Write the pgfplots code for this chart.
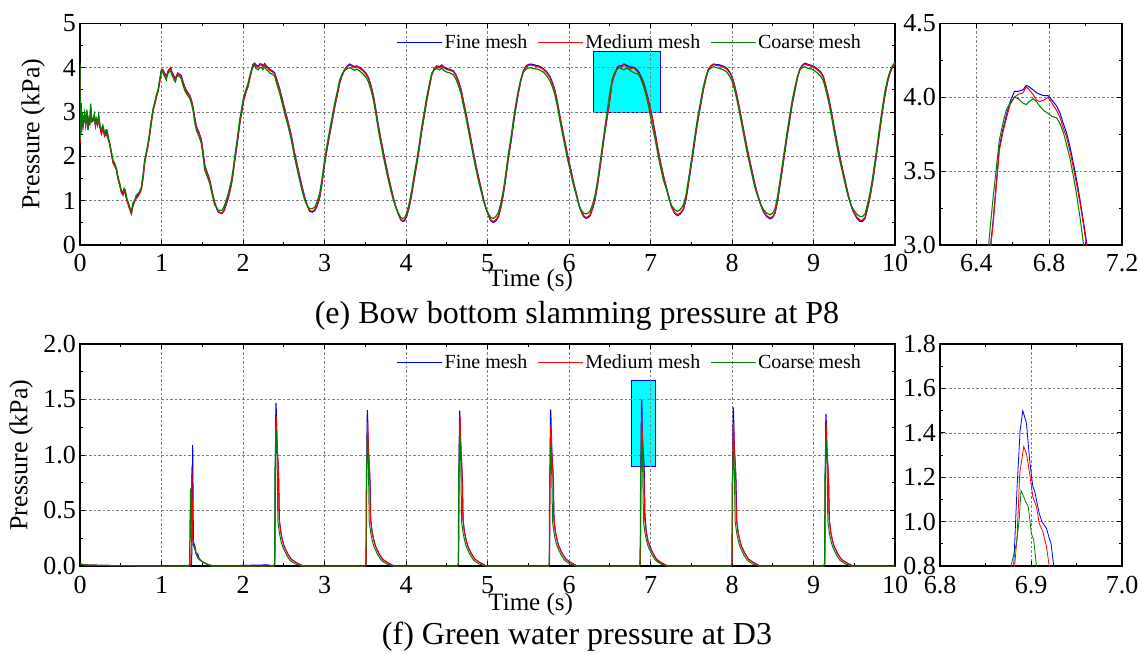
\documentclass[border=0pt]{standalone}
\usepackage{fontspec}
\setmainfont{Liberation Serif}
\usepackage{pgfplots}
\pgfplotsset{compat=1.18}
\usepackage{pgfplotstable}

\definecolor{cgreen}{RGB}{0,128,0}
\definecolor{cblue}{RGB}{0,0,255}
\definecolor{cred}{RGB}{255,0,0}
\definecolor{ccyan}{RGB}{0,255,255}

% columns: time, coarse, medium, fine
\pgfplotstableread{
t c m f
0 4.10 4.05 4.08
0.004 2.40 2.30 2.35
0.008 3.10 2.90 3.00
0.012 2.60 2.50 2.55
0.016 3.20 3.00 3.10
0.02 2.66 2.55 2.60
0.03 3.00 2.95 2.90
0.04 2.70 2.75 2.70
0.057 2.97 2.90 2.95
0.07 2.75 2.70 2.72
0.085 3.05 2.95 3.00
0.098 2.59 2.65 2.60
0.11 2.90 2.85 2.88
0.12 2.75 2.75 2.70
0.131 3.19 3.05 3.10
0.145 2.80 2.80 2.78
0.16 2.82 2.85 2.80
0.175 2.95 2.90 2.92
0.19 2.70 2.72 2.70
0.2 2.85 2.80 2.82
0.215 2.75 2.70 2.72
0.229 2.93 2.85 2.90
0.245 2.70 2.65 2.68
0.262 2.59 2.50 2.55
0.28 2.70 2.62 2.66
0.303 2.52 2.45 2.48
0.32 2.60 2.50 2.55
0.335 2.59 2.45 2.50
0.35 2.40 2.35 2.38
0.364 2.29 2.30 2.28
0.385 2.10 2.05 2.08
0.405 1.91 1.85 1.88
0.425 1.85 1.78 1.80
0.446 1.73 1.70 1.72
0.465 1.55 1.50 1.52
0.487 1.39 1.35 1.37
0.508 1.22 1.18 1.20
0.528 1.20 1.12 1.15
0.542 1.28 1.22 1.25
0.556 1.24 1.15 1.18
0.575 1.05 1.00 1.02
0.589 0.98 0.92 0.95
0.61 0.85 0.80 0.82
0.63 0.75 0.70 0.72
0.65 0.95 0.88 0.90
0.671 1.01 0.98 1.00
0.69 1.12 1.05 1.08
0.712 1.16 1.10 1.12
0.73 1.20 1.15 1.18
0.753 1.31 1.25 1.28
0.775 1.60 1.52 1.55
0.793 1.91 1.85 1.88
0.815 2.10 2.05 2.08
0.834 2.29 2.22 2.25
0.855 2.55 2.48 2.50
0.875 2.82 2.75 2.78
0.9 3.10 3.05 3.08
0.924 3.27 3.22 3.25
0.94 3.40 3.35 3.38
0.957 3.49 3.45 3.47
0.98 3.75 3.70 3.72
0.998 3.94 3.92 3.93
1.015 3.90 3.95 3.96
1.03 3.83 3.88 3.90
1.045 3.78 3.82 3.85
1.06 3.72 3.78 3.80
1.07 3.82 3.85 3.86
1.08 3.87 3.90 3.92
1.095 3.90 3.95 3.96
1.112 3.94 3.98 4.00
1.125 3.85 3.90 3.92
1.14 3.79 3.85 3.86
1.155 3.72 3.78 3.80
1.17 3.68 3.72 3.75
1.185 3.78 3.80 3.82
1.2 3.83 3.86 3.88
1.22 3.80 3.84 3.85
1.243 3.75 3.80 3.82
1.264 3.60 3.66 3.68
1.284 3.49 3.55 3.57
1.31 3.40 3.45 3.47
1.346 3.31 3.36 3.38
1.365 3.20 3.26 3.28
1.386 3.04 3.10 3.12
1.405 2.80 2.88 2.90
1.427 2.59 2.66 2.68
1.46 2.45 2.52 2.54
1.489 2.29 2.36 2.38
1.51 2.00 2.08 2.10
1.53 1.69 1.78 1.80
1.56 1.55 1.62 1.64
1.591 1.39 1.45 1.47
1.62 1.15 1.20 1.22
1.652 0.90 0.95 0.96
1.675 0.85 0.84 0.84
1.693 0.79 0.76 0.75
1.72 0.78 0.73 0.72
1.742 0.78 0.72 0.71
1.77 0.88 0.80 0.78
1.795 1.01 0.94 0.92
1.825 1.20 1.12 1.10
1.857 1.46 1.38 1.36
1.878 1.70 1.62 1.60
1.898 1.99 1.91 1.89
1.93 2.40 2.32 2.30
1.959 2.82 2.74 2.72
1.985 3.10 3.03 3.01
2.008 3.34 3.27 3.26
2.035 3.50 3.45 3.44
2.061 3.64 3.58 3.57
2.08 3.80 3.74 3.73
2.102 3.94 3.90 3.90
2.12 4.02 4.04 4.06
2.143 4.05 4.09 4.10
2.16 3.98 4.04 4.06
2.184 3.95 4.01 4.03
2.205 4.00 4.06 4.08
2.225 4.00 4.06 4.08
2.245 3.96 4.02 4.04
2.266 4.02 4.07 4.09
2.29 3.95 4.01 4.03
2.31 3.92 3.98 4.00
2.328 3.88 3.94 3.96
2.36 3.85 3.91 3.93
2.389 3.80 3.86 3.88
2.42 3.60 3.68 3.70
2.45 3.42 3.50 3.52
2.48 3.20 3.28 3.30
2.511 2.97 3.05 3.07
2.55 2.70 2.78 2.80
2.593 2.37 2.45 2.47
2.63 2.00 2.08 2.10
2.675 1.62 1.70 1.72
2.715 1.30 1.37 1.39
2.757 1.01 1.06 1.08
2.79 0.88 0.88 0.88
2.818 0.82 0.78 0.76
2.85 0.82 0.76 0.74
2.879 0.85 0.79 0.77
2.91 0.98 0.90 0.88
2.94 1.16 1.08 1.06
2.97 1.50 1.42 1.40
3.0 1.91 1.83 1.81
3.03 2.25 2.17 2.15
3.063 2.59 2.51 2.49
3.095 2.90 2.82 2.80
3.124 3.19 3.11 3.10
3.155 3.45 3.38 3.37
3.186 3.72 3.66 3.65
3.215 3.85 3.82 3.82
3.247 3.94 3.95 3.96
3.275 3.97 4.02 4.03
3.308 4.00 4.06 4.08
3.34 3.97 4.03 4.05
3.37 3.94 4.00 4.02
3.395 3.97 4.03 4.04
3.435 3.92 3.98 4.00
3.477 3.85 3.92 3.94
3.51 3.78 3.85 3.87
3.539 3.68 3.76 3.78
3.57 3.50 3.58 3.60
3.6 3.27 3.35 3.37
3.63 2.95 3.03 3.05
3.661 2.59 2.67 2.69
3.69 2.30 2.38 2.40
3.723 1.99 2.07 2.09
3.755 1.70 1.78 1.80
3.784 1.46 1.53 1.55
3.815 1.22 1.28 1.30
3.845 1.01 1.05 1.06
3.875 0.85 0.86 0.86
3.907 0.72 0.70 0.69
3.935 0.62 0.58 0.57
3.96 0.60 0.55 0.53
3.985 0.62 0.57 0.55
4.008 0.72 0.66 0.64
4.04 0.95 0.88 0.86
4.07 1.24 1.16 1.14
4.1 1.58 1.50 1.48
4.131 1.91 1.83 1.81
4.16 2.25 2.17 2.15
4.193 2.67 2.59 2.57
4.225 3.02 2.94 2.92
4.254 3.34 3.27 3.25
4.285 3.62 3.56 3.55
4.315 3.87 3.83 3.83
4.345 3.95 3.97 3.98
4.377 3.98 4.02 4.04
4.41 3.95 4.00 4.02
4.438 3.99 4.04 4.06
4.47 3.93 3.99 4.01
4.499 3.90 3.96 3.98
4.54 3.88 3.94 3.96
4.581 3.84 3.91 3.93
4.61 3.75 3.83 3.85
4.643 3.60 3.68 3.70
4.674 3.42 3.50 3.52
4.704 3.15 3.23 3.25
4.735 2.88 2.96 2.98
4.765 2.59 2.67 2.69
4.795 2.30 2.38 2.40
4.827 1.99 2.07 2.09
4.857 1.72 1.79 1.81
4.888 1.46 1.53 1.55
4.92 1.22 1.27 1.29
4.949 1.01 1.04 1.05
4.98 0.83 0.83 0.83
5.011 0.71 0.68 0.67
5.04 0.62 0.57 0.55
5.072 0.60 0.53 0.51
5.1 0.64 0.56 0.54
5.133 0.73 0.65 0.63
5.165 0.95 0.87 0.85
5.194 1.24 1.16 1.14
5.225 1.62 1.54 1.52
5.256 2.06 1.98 1.96
5.29 2.45 2.37 2.35
5.317 2.82 2.74 2.72
5.345 3.15 3.08 3.06
5.378 3.49 3.43 3.42
5.41 3.75 3.72 3.72
5.44 3.90 3.92 3.93
5.47 3.96 4.01 4.03
5.501 3.99 4.05 4.07
5.53 4.00 4.06 4.08
5.562 3.98 4.05 4.07
5.595 3.97 4.03 4.05
5.624 3.96 4.02 4.04
5.655 3.93 3.99 4.01
5.685 3.90 3.96 3.98
5.725 3.82 3.89 3.91
5.767 3.70 3.78 3.80
5.8 3.55 3.63 3.65
5.828 3.38 3.46 3.48
5.86 3.10 3.18 3.20
5.889 2.80 2.88 2.90
5.92 2.50 2.58 2.60
5.951 2.22 2.30 2.32
5.98 1.95 2.03 2.05
6.012 1.70 1.77 1.79
6.05 1.38 1.44 1.46
6.094 1.09 1.12 1.13
6.125 0.88 0.88 0.88
6.155 0.77 0.74 0.73
6.18 0.72 0.66 0.64
6.208 0.70 0.62 0.60
6.235 0.72 0.64 0.62
6.258 0.76 0.68 0.66
6.29 0.92 0.84 0.82
6.319 1.12 1.04 1.02
6.35 1.45 1.37 1.35
6.38 1.84 1.76 1.74
6.41 2.25 2.17 2.15
6.442 2.67 2.59 2.57
6.467 3.00 2.86 2.88
6.49 3.30 3.12 3.14
6.526 3.71 3.64 3.66
6.545 3.82 3.76 3.78
6.563 3.91 3.85 3.87
6.585 3.96 3.95 3.97
6.609 4.00 4.00 4.04
6.63 3.99 4.02 4.04
6.656 3.96 4.03 4.05
6.674 3.95 4.07 4.08
6.69 3.97 4.05 4.07
6.711 3.99 4.02 4.05
6.73 3.97 3.98 4.03
6.748 3.94 3.97 4.02
6.77 3.91 3.98 4.01
6.794 3.89 4.00 4.01
6.815 3.87 3.96 3.98
6.841 3.86 3.91 3.94
6.86 3.82 3.86 3.89
6.878 3.76 3.79 3.82
6.895 3.68 3.73 3.76
6.915 3.58 3.63 3.66
6.935 3.45 3.51 3.54
6.952 3.33 3.40 3.43
6.97 3.18 3.28 3.30
6.989 3.00 3.13 3.15
7.02 2.70 2.87 2.90
7.055 2.40 2.52 2.55
7.085 2.10 2.20 2.23
7.117 1.80 1.90 1.92
7.16 1.45 1.53 1.55
7.199 1.24 1.26 1.27
7.23 1.02 1.04 1.05
7.26 0.88 0.86 0.85
7.295 0.80 0.74 0.72
7.33 0.76 0.68 0.66
7.365 0.80 0.72 0.70
7.403 0.90 0.82 0.80
7.435 1.12 1.04 1.02
7.464 1.46 1.38 1.36
7.495 1.84 1.76 1.74
7.526 2.22 2.14 2.12
7.555 2.60 2.52 2.50
7.587 2.97 2.89 2.87
7.62 3.30 3.23 3.21
7.648 3.57 3.51 3.50
7.68 3.80 3.76 3.76
7.709 3.94 3.95 3.96
7.74 3.99 4.03 4.04
7.771 4.02 4.07 4.08
7.81 4.00 4.05 4.07
7.853 3.98 4.04 4.06
7.895 3.95 4.01 4.03
7.935 3.90 3.97 3.99
7.965 3.82 3.90 3.92
7.996 3.72 3.80 3.82
8.025 3.55 3.63 3.65
8.057 3.30 3.38 3.40
8.09 3.00 3.08 3.10
8.119 2.72 2.80 2.82
8.15 2.42 2.50 2.52
8.18 2.13 2.21 2.23
8.21 1.88 1.95 1.97
8.241 1.62 1.69 1.71
8.27 1.38 1.44 1.46
8.303 1.16 1.20 1.21
8.345 0.95 0.95 0.95
8.385 0.80 0.76 0.75
8.425 0.72 0.66 0.64
8.466 0.68 0.61 0.59
8.5 0.72 0.64 0.62
8.528 0.82 0.74 0.72
8.56 1.10 1.02 1.00
8.589 1.46 1.38 1.36
8.62 1.84 1.76 1.74
8.65 2.22 2.14 2.12
8.68 2.60 2.52 2.50
8.712 2.97 2.89 2.87
8.74 3.28 3.21 3.19
8.773 3.57 3.51 3.50
8.805 3.82 3.79 3.79
8.835 3.96 3.97 3.98
8.865 4.00 4.05 4.06
8.896 4.02 4.08 4.10
8.935 3.98 4.05 4.07
8.978 3.97 4.03 4.05
9.02 3.92 3.99 4.01
9.06 3.86 3.93 3.95
9.09 3.80 3.88 3.90
9.121 3.70 3.78 3.80
9.15 3.50 3.58 3.60
9.183 3.25 3.33 3.35
9.215 2.95 3.03 3.05
9.244 2.65 2.73 2.75
9.275 2.35 2.43 2.45
9.305 2.06 2.14 2.16
9.335 1.80 1.87 1.89
9.367 1.54 1.60 1.62
9.4 1.28 1.33 1.35
9.428 1.08 1.11 1.12
9.46 0.90 0.90 0.90
9.489 0.80 0.76 0.75
9.53 0.70 0.63 0.61
9.571 0.64 0.56 0.53
9.6 0.64 0.56 0.53
9.632 0.70 0.62 0.60
9.66 0.90 0.82 0.80
9.693 1.17 1.09 1.07
9.725 1.52 1.44 1.42
9.755 1.90 1.82 1.80
9.785 2.30 2.22 2.20
9.816 2.72 2.64 2.62
9.845 3.10 3.02 3.00
9.877 3.47 3.40 3.38
9.91 3.75 3.70 3.69
9.939 3.92 3.89 3.89
9.97 4.05 4.02 4.02
10.0 4.12 4.10 4.10
}\topdata

% green water pressure, fine mesh
\pgfplotstableread{
t v
0 0.02
0.05 0.01
0.3 0.005
1.0 0
1.355 0
1.37 0.02
1.374 0.3
1.377 0.6
1.38 0.9
1.383 1.09
1.386 0.8
1.389 0.45
1.392 0.22
1.4 0.2
1.41 0.18
1.425 0.12
1.435 0.1
1.445 0.11
1.455 0.08
1.48 0.05
1.52 0.03
1.58 0.01
1.65 0
2.3 0.01
2.375 0
2.389 0.02
2.392 0.3
2.395 0.78
2.399 1.13
2.402 1.38
2.405 1.47
2.409 1.40
2.413 1.25
2.42 1.07
2.426 0.98
2.434 0.88
2.439 0.78
2.447 0.41
2.465 0.3
2.485 0.23
2.505 0.18
2.55 0.11
2.595 0.06
2.655 0.03
2.735 0
3.496 0
3.51 0.02
3.513 0.3
3.516 0.75
3.52 1.08
3.523 1.32
3.526 1.405
3.53 1.335
3.534 1.19
3.541 1.03
3.547 0.94
3.555 0.84
3.56 0.74
3.568 0.41
3.586 0.3
3.606 0.23
3.626 0.18
3.671 0.11
3.716 0.06
3.776 0.03
3.856 0
4.629 0
4.643 0.02
4.646 0.3
4.649 0.75
4.653 1.08
4.656 1.32
4.659 1.40
4.663 1.33
4.667 1.19
4.674 1.02
4.68 0.94
4.688 0.84
4.693 0.74
4.701 0.41
4.719 0.3
4.739 0.23
4.759 0.18
4.804 0.11
4.849 0.06
4.909 0.03
4.989 0
5.745 0
5.759 0.02
5.762 0.3
5.765 0.75
5.769 1.09
5.772 1.33
5.775 1.41
5.779 1.34
5.783 1.2
5.79 1.03
5.796 0.94
5.804 0.85
5.809 0.75
5.817 0.41
5.835 0.3
5.855 0.23
5.875 0.18
5.92 0.11
5.965 0.06
6.025 0.03
6.105 0
6.86 0
6.87 0.01
6.878 0.3
6.881 0.8
6.8847 1.157
6.888 1.41
6.891 1.5
6.895 1.443
6.8985 1.277
6.902 1.157
6.904 1.14
6.906 1.097
6.909 1.037
6.912 1.0
6.917 0.97
6.92 0.925
6.922 0.902
6.925 0.8
6.933 0.45
6.95 0.3
6.97 0.22
6.994 0.18
7.01 0.15
7.035 0.11
7.08 0.05
7.13 0.02
7.2 0
7.986 0
8.0 0.02
8.003 0.3
8.006 0.76
8.01 1.1
8.013 1.34
8.016 1.43
8.02 1.36
8.024 1.22
8.031 1.04
8.037 0.96
8.045 0.86
8.05 0.76
8.058 0.41
8.076 0.3
8.096 0.23
8.116 0.18
8.161 0.11
8.206 0.06
8.266 0.03
8.346 0
9.123 0
9.137 0.02
9.14 0.3
9.143 0.73
9.147 1.05
9.15 1.29
9.153 1.37
9.157 1.3
9.161 1.16
9.168 1.0
9.174 0.92
9.182 0.82
9.187 0.73
9.195 0.41
9.213 0.3
9.233 0.23
9.253 0.18
9.298 0.11
9.343 0.06
9.403 0.03
9.483 0
10 0
}\botF

% medium mesh
\pgfplotstableread{
t v
0 0.02
0.05 0.01
0.3 0.005
1.0 0
1.345 0
1.36 0.02
1.364 0.3
1.368 0.6
1.372 0.895
1.375 0.8
1.379 0.45
1.383 0.25
1.39 0.2
1.4 0.18
1.415 0.14
1.43 0.1
1.45 0.07
1.48 0.05
1.52 0.03
1.58 0.01
1.65 0
2.377 0
2.391 0.02
2.394 0.3
2.397 0.81
2.4 0.95
2.403 1.23
2.407 1.35
2.41 1.32
2.4135 1.23
2.417 1.12
2.421 1.08
2.424 1.0
2.428 0.96
2.432 0.89
2.435 0.81
2.443 0.43
2.462 0.31
2.482 0.24
2.502 0.18
2.547 0.11
2.592 0.06
2.652 0.03
2.732 0
3.498 0
3.512 0.02
3.515 0.3
3.518 0.77
3.521 0.9
3.524 1.17
3.528 1.29
3.531 1.26
3.5345 1.17
3.538 1.07
3.542 1.03
3.545 0.95
3.549 0.92
3.553 0.85
3.556 0.77
3.564 0.43
3.583 0.31
3.603 0.24
3.623 0.18
3.668 0.11
3.713 0.06
3.773 0.03
3.853 0
4.631 0
4.645 0.02
4.648 0.3
4.651 0.81
4.654 0.95
4.657 1.23
4.661 1.35
4.664 1.32
4.6675 1.23
4.671 1.12
4.675 1.08
4.678 1.0
4.682 0.96
4.686 0.89
4.689 0.81
4.697 0.43
4.716 0.31
4.736 0.24
4.756 0.18
4.801 0.11
4.846 0.06
4.906 0.03
4.986 0
5.747 0
5.761 0.02
5.764 0.3
5.767 0.76
5.77 0.89
5.773 1.16
5.777 1.27
5.78 1.24
5.7835 1.16
5.787 1.05
5.791 1.02
5.794 0.94
5.798 0.9
5.802 0.84
5.805 0.76
5.813 0.43
5.832 0.31
5.852 0.24
5.872 0.18
5.917 0.11
5.962 0.06
6.022 0.03
6.102 0
6.862 0
6.876 0.02
6.879 0.3
6.882 0.8
6.8847 0.93
6.8876 1.217
6.892 1.338
6.895 1.307
6.8985 1.217
6.902 1.112
6.906 1.067
6.909 0.992
6.913 0.955
6.917 0.887
6.92 0.8
6.928 0.43
6.947 0.31
6.967 0.24
6.987 0.18
7.032 0.11
7.077 0.06
7.137 0.03
7.217 0
7.988 0
8.002 0.02
8.005 0.3
8.008 0.77
8.011 0.9
8.014 1.17
8.018 1.29
8.021 1.26
8.0245 1.17
8.028 1.07
8.032 1.03
8.035 0.95
8.039 0.92
8.043 0.85
8.046 0.77
8.054 0.43
8.073 0.31
8.093 0.24
8.113 0.18
8.158 0.11
8.203 0.06
8.263 0.03
8.343 0
9.125 0
9.139 0.02
9.142 0.3
9.145 0.77
9.148 0.9
9.151 1.17
9.155 1.29
9.158 1.26
9.1615 1.17
9.165 1.07
9.169 1.03
9.172 0.95
9.176 0.92
9.18 0.85
9.183 0.77
9.191 0.43
9.21 0.31
9.23 0.24
9.25 0.18
9.295 0.11
9.34 0.06
9.4 0.03
9.48 0
10 0
}\botM

% coarse mesh
\pgfplotstableread{
t v
0 0.02
0.05 0.01
0.3 0.005
1.0 0
1.33 0
1.345 0.02
1.348 0.4
1.352 0.45
1.356 0.70
1.359 0.6
1.362 0.35
1.366 0.22
1.375 0.2
1.39 0.19
1.41 0.15
1.43 0.1
1.46 0.06
1.5 0.04
1.55 0.02
1.62 0
2.373 0
2.387 0.02
2.389 0.3
2.392 0.88
2.398 0.99
2.401 1.1
2.403 1.25
2.406 1.22
2.408 1.2
2.411 1.17
2.4144 1.04
2.417 1.0
2.42 0.88
2.428 0.4
2.448 0.29
2.468 0.22
2.488 0.17
2.533 0.1
2.578 0.05
2.638 0.02
2.718 0
3.494 0
3.508 0.02
3.51 0.3
3.513 0.83
3.519 0.93
3.522 1.04
3.524 1.18
3.527 1.15
3.529 1.13
3.532 1.1
3.5354 0.98
3.538 0.94
3.541 0.83
3.549 0.4
3.569 0.29
3.589 0.22
3.609 0.17
3.654 0.1
3.699 0.05
3.759 0.02
3.839 0
4.627 0
4.641 0.02
4.643 0.3
4.646 0.85
4.652 0.96
4.655 1.07
4.657 1.22
4.66 1.19
4.662 1.17
4.665 1.14
4.6684 1.01
4.671 0.98
4.674 0.85
4.682 0.4
4.702 0.29
4.722 0.22
4.742 0.17
4.787 0.1
4.832 0.05
4.892 0.02
4.972 0
5.743 0
5.757 0.02
5.759 0.3
5.762 0.76
5.768 0.86
5.771 0.96
5.773 1.09
5.776 1.06
5.778 1.04
5.781 1.02
5.7844 0.9
5.787 0.87
5.79 0.76
5.798 0.4
5.818 0.29
5.838 0.22
5.858 0.17
5.903 0.1
5.948 0.05
6.008 0.02
6.088 0
6.859 0
6.873 0.02
6.875 0.3
6.878 0.8
6.884 0.902
6.887 1.007
6.889 1.14
6.892 1.112
6.894 1.09
6.897 1.067
6.9004 0.947
6.903 0.917
6.906 0.8
6.914 0.4
6.934 0.29
6.954 0.22
6.974 0.17
7.019 0.1
7.064 0.05
7.124 0.02
7.204 0
7.984 0
7.998 0.02
8.0 0.3
8.003 0.76
8.009 0.86
8.012 0.96
8.014 1.09
8.017 1.06
8.019 1.04
8.022 1.02
8.0254 0.9
8.028 0.87
8.031 0.76
8.039 0.4
8.059 0.29
8.079 0.22
8.099 0.17
8.144 0.1
8.189 0.05
8.249 0.02
8.329 0
9.121 0
9.135 0.02
9.137 0.3
9.14 0.82
9.146 0.92
9.149 1.03
9.151 1.17
9.154 1.14
9.156 1.12
9.159 1.1
9.1624 0.97
9.165 0.94
9.168 0.82
9.176 0.4
9.196 0.29
9.216 0.22
9.236 0.17
9.281 0.1
9.326 0.05
9.386 0.02
9.466 0
10 0
}\botC

\pgfplotsset{
  base/.style={
    scale only axis, set layers,
    axis line style={line width=1.2pt},
    every tick/.style={black, line width=0.8pt},
    major tick length=5pt, minor tick length=3pt,
    grid=major,
    major grid style={dash pattern=on 2.5pt off 2pt, gray, line width=0.6pt},
    tick label style={font=\fontsize{26}{26}\selectfont},
    /pgf/number format/assume math mode=true,
    yticklabel style={inner sep=1pt, xshift=-3pt},
  },
  mainleg/.style={
    legend style={draw=none, fill=none, font=\fontsize{20}{20}\selectfont,
      at={(axis description cs:0.962,0.965)}, anchor=north east, inner sep=1pt,
      /tikz/every even column/.append style={column sep=8pt}},
    legend columns=3,
    legend image code/.code={\draw[##1] (0pt,0pt) -- (45pt,0pt);},
  },
  onedec/.style={/pgf/number format/.cd, fixed, fixed zerofill, precision=1},
}

\begin{document}
\begin{tikzpicture}

% ---------- (e) main ----------
\begin{axis}[base, mainleg,
  at={(80pt,-245pt)}, anchor=south west, width=815pt, height=221.7pt,
  xmin=0, xmax=10, ymin=0, ymax=5,
  xtick={0,1,...,10}, ytick={0,1,...,5},
  minor x tick num=1, minor y tick num=1,
  xticklabel style={inner sep=1pt, yshift=-8pt},
  xlabel={Time (s)},
  x label style={at={(axis description cs:0.553,0)}, anchor=north, yshift=-24pt, inner sep=0pt, font=\fontsize{25}{25}\selectfont},
  ylabel={Pressure (kPa)},
  y label style={at={(axis description cs:0,0.5)}, anchor=south, yshift=35pt, inner sep=0pt, font=\fontsize{26}{26}\selectfont},
]
\addplot[draw=cblue, fill=ccyan, line width=0.8pt, forget plot, on layer=axis background] coordinates {(6.3,3.0) (7.12,3.0) (7.12,4.37) (6.3,4.37) (6.3,3.0)};
\addplot[cblue, line width=1.2pt, forget plot] table[x=t, y=f] {\topdata};
\addplot[cred, line width=1.2pt, forget plot] table[x=t, y=m] {\topdata};
\addplot[cgreen, line width=1.2pt, forget plot] table[x=t, y=c] {\topdata};
\addlegendimage{cblue, line width=0.8pt}
\addlegendentry{Fine mesh}
\addlegendimage{cred, line width=0.8pt}
\addlegendentry{Medium mesh}
\addlegendimage{cgreen, line width=0.8pt}
\addlegendentry{Coarse mesh}
\end{axis}

% ---------- (e) inset ----------
\begin{axis}[base,
  at={(940pt,-245pt)}, anchor=south west, width=182pt, height=221.7pt,
  xmin=6.2, xmax=7.2, ymin=3, ymax=4.5,
  xtick={6.4,6.8,7.2}, minor xtick={6.6,7.0},
  ytick={3,3.5,4,4.5}, minor ytick={3.25,3.75,4.25},
  xticklabel style={inner sep=1pt, yshift=-8pt, onedec}, yticklabel style={onedec},
]
\addplot[cblue, line width=1pt] table[x=t, y=f] {\topdata};
\addplot[cred, line width=1pt] table[x=t, y=m] {\topdata};
\addplot[cgreen, line width=1pt] table[x=t, y=c] {\topdata};
\end{axis}

% ---------- (f) main ----------
\begin{axis}[base, mainleg,
  at={(80pt,-566pt)}, anchor=south west, width=815pt, height=222pt,
  xmin=0, xmax=10, ymin=0, ymax=2,
  xtick={0,1,...,10}, ytick={0,0.5,1,1.5,2},
  minor x tick num=1, minor y tick num=1,
  xticklabel style={inner sep=1pt, yshift=-9pt},
  yticklabel style={onedec},
  xlabel={Time (s)},
  x label style={at={(axis description cs:0.553,0)}, anchor=north, yshift=-27pt, inner sep=0pt, font=\fontsize{25}{25}\selectfont},
  ylabel={Pressure (kPa)},
  y label style={at={(axis description cs:0,0.5)}, anchor=south, yshift=47pt, inner sep=0pt, font=\fontsize{26}{26}\selectfont},
]
\addplot[draw=cblue, fill=ccyan, line width=0.8pt, forget plot, on layer=axis background] coordinates {(6.76,0.9) (7.06,0.9) (7.06,1.67) (6.76,1.67) (6.76,0.9)};
\addplot[cblue, line width=1pt, forget plot] table[x=t, y=v] {\botF};
\addplot[cred, line width=1pt, forget plot] table[x=t, y=v] {\botM};
\addplot[cgreen, line width=1pt, forget plot] table[x=t, y=v] {\botC};
\addlegendimage{cblue, line width=0.8pt}
\addlegendentry{Fine mesh}
\addlegendimage{cred, line width=0.8pt}
\addlegendentry{Medium mesh}
\addlegendimage{cgreen, line width=0.8pt}
\addlegendentry{Coarse mesh}
\end{axis}

% ---------- (f) inset ----------
\begin{axis}[base,
  at={(940pt,-566pt)}, anchor=south west, width=182pt, height=222pt,
  xmin=6.8, xmax=7.0, ymin=0.8, ymax=1.8,
  xtick={6.8,6.9,7.0}, minor xtick={6.85,6.95},
  ytick={0.8,1.0,1.2,1.4,1.6,1.8}, minor ytick={0.9,1.1,1.3,1.5,1.7},
  xticklabel style={inner sep=1pt, yshift=-9pt, onedec}, yticklabel style={onedec},
]
\addplot[cblue, line width=0.8pt] table[x=t, y=v] {\botF};
\addplot[cred, line width=0.8pt] table[x=t, y=v] {\botM};
\addplot[cgreen, line width=0.8pt] table[x=t, y=v] {\botC};
\end{axis}

\node[font=\fontsize{32}{32}\selectfont, inner sep=0pt] at (577pt,-316pt) {(e) Bow bottom slamming pressure at P8};
\node[font=\fontsize{32}{32}\selectfont, inner sep=0pt] at (577pt,-637pt) {(f) Green water pressure at D3};

\pgfresetboundingbox
\useasboundingbox (0,0) rectangle (1139pt,-653pt);
\end{tikzpicture}
\end{document}
